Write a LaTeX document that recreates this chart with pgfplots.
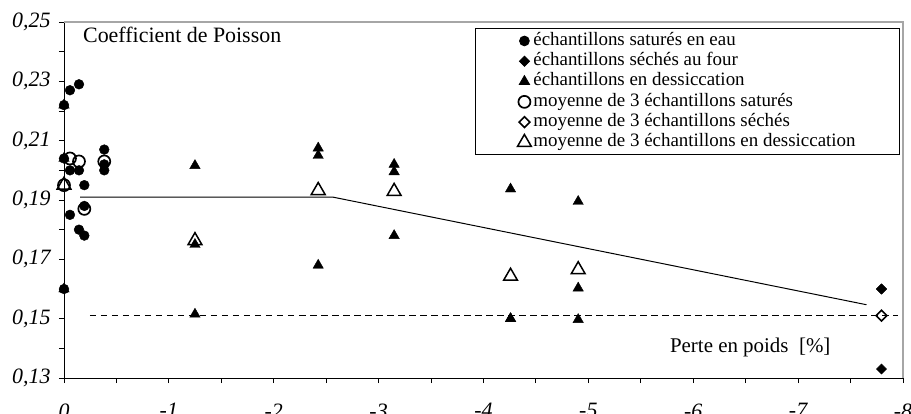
\documentclass[border=0pt]{standalone}
\usepackage{fontspec}
\setmainfont{Liberation Serif}
\usepackage{pgfplots}
\pgfplotsset{compat=1.18}
\begin{document}
\begin{tikzpicture}
\begin{axis}[
  scale only axis,
  width=839bp, height=356bp,
  at={(0,0)}, anchor=south west,
  x dir=reverse,
  xmin=-8, xmax=0, ymin=0.13, ymax=0.25,
  axis x line*=bottom, axis y line*=left,
  axis line style={black, line width=0.9bp, -},
  xtick={0,-1,-2,-3,-4,-5,-6,-7,-8},
  xticklabels={0,-1,-2,-3,-4,-5,-6,-7,-8},
  minor xtick={-0.5,-1.5,-2.5,-3.5,-4.5,-5.5,-6.5,-7.5},
  ytick={0.13,0.15,0.17,0.19,0.21,0.23,0.25},
  yticklabels={{0,13},{0,15},{0,17},{0,19},{0,21},{0,23},{0,25}},
  minor ytick={0.14,0.16,0.18,0.20,0.22,0.24},
  tick align=outside,
  major tick length=5bp, minor tick length=5bp,
  every tick/.style={black, line width=0.9bp},
  tick label style={font=\itshape\fontsize{22}{22}\selectfont},
  xticklabel style={yshift=-17bp},
  yticklabel style={xshift=-5bp},
  clip=false,
  legend cell align=left,
  legend style={at={(rel axis cs:0.9964,0.982)}, anchor=north east,
    draw=black, line width=0.8bp, fill=white,
    inner xsep=42bp, inner ysep=2bp,
    font=\fontsize{19}{20}\selectfont,
    row sep=0pt,
    nodes={inner ysep=0pt, inner xsep=2bp, text height=14.5bp, text depth=5.8bp}},
]
% lines
\addplot[forget plot, black, line width=1bp] coordinates {(-0.153,0.191) (-2.56,0.191) (-7.652,0.1547)};
\addplot[forget plot, black, line width=1bp, dash pattern=on 6.5bp off 4.5bp] coordinates {(-0.248,0.151) (-7.95,0.151)};
% saturated samples
\addplot[only marks, mark=*, mark size=4.9bp, black, mark options={fill=black}] coordinates {
 (0,0.222) (0,0.204) (0,0.160)
 (-0.057,0.227) (-0.057,0.200) (-0.057,0.185)
 (-0.143,0.229) (-0.143,0.200) (-0.143,0.180)
 (-0.194,0.195) (-0.194,0.178) (-0.194,0.188)
 (-0.384,0.207) (-0.384,0.200) (-0.384,0.202)};
\addlegendentry{échantillons saturés en eau}
% oven dried
\addplot[only marks, mark=square*, mark size=3.6bp, black, mark options={fill=black, rotate=45}] coordinates {
 (-7.795,0.160) (-7.795,0.160) (-7.795,0.133)};
\addlegendentry{échantillons séchés au four}
% desiccation
\addplot[only marks, mark=triangle*, mark size=6bp, black, mark options={fill=black}] coordinates {
 (0,0.222) (0,0.204) (0,0.160)
 (-1.249,0.2016) (-1.249,0.175) (-1.249,0.1515)
 (-2.424,0.2075) (-2.424,0.205) (-2.424,0.168)
 (-3.148,0.202) (-3.148,0.1995) (-3.148,0.178)
 (-4.258,0.1937) (-4.258,0.150) (-4.258,0.150)
 (-4.903,0.1895) (-4.903,0.1603) (-4.903,0.1497)};
\addlegendentry{échantillons en dessiccation}
% means
\addplot[only marks, mark=o, mark size=6bp, black, mark options={fill=white, line width=1.7bp}] coordinates {
 (0,0.195) (-0.057,0.204) (-0.143,0.203) (-0.194,0.187) (-0.384,0.203)};
\addlegendentry{moyenne de 3 échantillons saturés}
\addplot[only marks, mark=square, mark size=3.8bp, black, mark options={fill=white, rotate=45, line width=1.6bp}] coordinates {
 (-7.795,0.151)};
\addlegendentry{moyenne de 3 échantillons séchés}
\addplot[only marks, mark=triangle, mark size=8bp, black, mark options={fill=white, line width=1.5bp}] coordinates {
 (0,0.195) (-1.249,0.1763) (-2.424,0.1932) (-3.148,0.1929) (-4.258,0.1643) (-4.903,0.1665)};
\addlegendentry{moyenne de 3 échantillons en dessiccation}
% texts
\node[anchor=base west, font=\fontsize{22}{22}\selectfont, inner sep=0pt] at (axis cs:-0.181,0.2432) {Coefficient de Poisson};
\node[anchor=base west, font=\fontsize{21}{21}\selectfont, inner sep=0pt] at (axis cs:-5.777,0.1385) {Perte en poids\ \ [\%]};
% grey frame top/right
\draw[gray!70, line width=1.3bp] (rel axis cs:0,1) -- (rel axis cs:1,1) -- (rel axis cs:1,0);
\end{axis}
\pgfresetboundingbox
\useasboundingbox (-64bp,-36bp) rectangle (847bp,378bp);
\end{tikzpicture}
\end{document}
